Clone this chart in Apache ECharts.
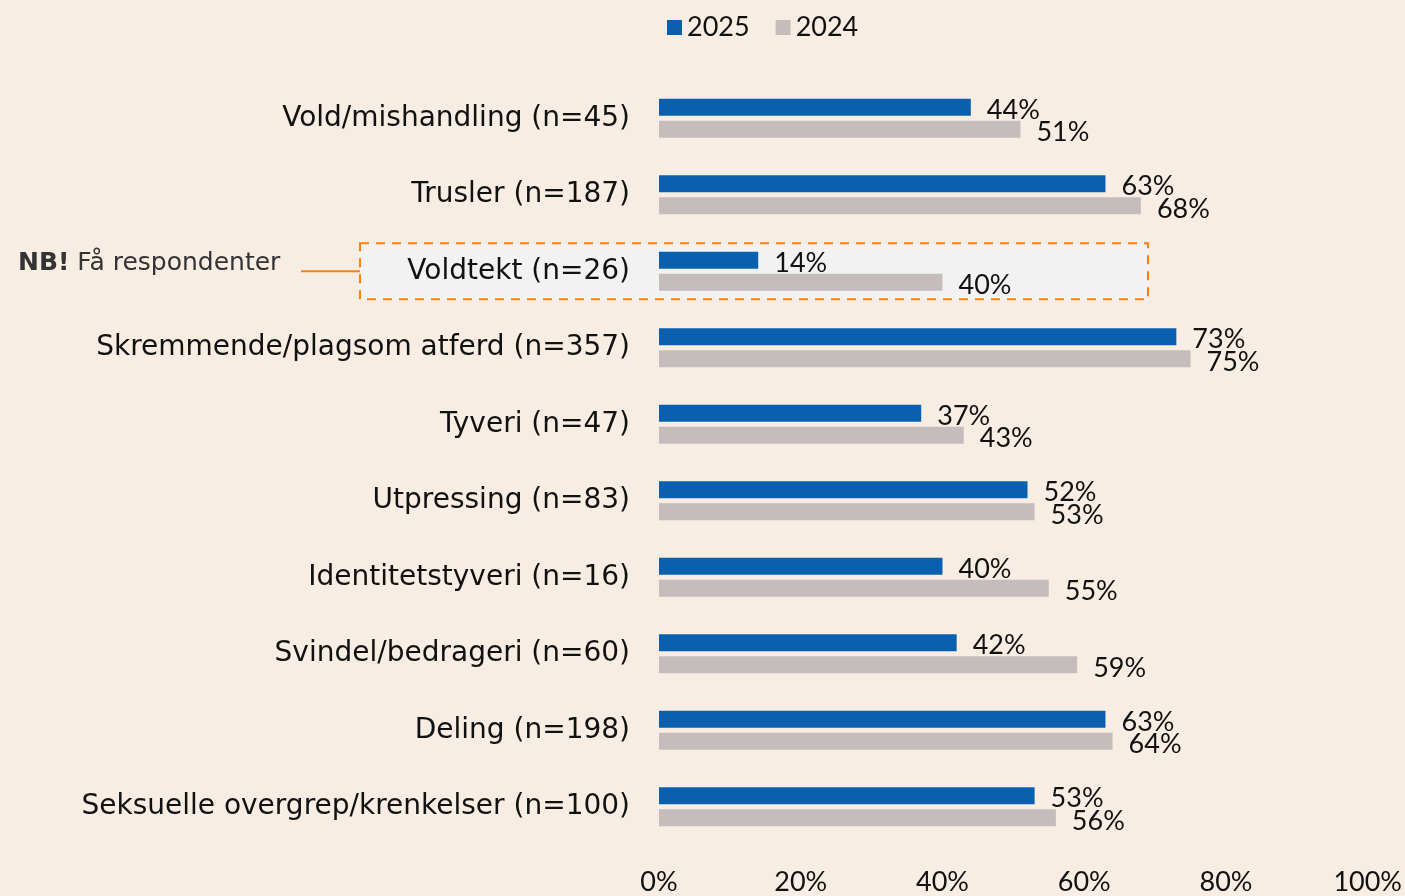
<!DOCTYPE html>
<html>
<head>
<meta charset="utf-8">
<script src="https://cdn.jsdelivr.net/npm/echarts@6/dist/echarts.min.js"></script>
<style>
html,body{margin:0;padding:0;background:#f8ede3;}
#chart{width:1405px;height:896px;}
</style>
</head>
<body>
<div id="chart"></div>
<script>
var categories = ['Vold/mishandling (n=45)', 'Trusler (n=187)', 'Voldtekt (n=26)', 'Skremmende/plagsom atferd (n=357)',
	'Tyveri (n=47)', 'Utpressing (n=83)', 'Identitetstyveri (n=16)', 'Svindel/bedrageri (n=60)',
	'Deling (n=198)', 'Seksuelle overgrep/krenkelser (n=100)'];
var values2025 = [44, 63, 14, 73, 37, 52, 40, 42, 63, 53];
var values2024 = [51, 68, 40, 75, 43, 53, 55, 59, 64, 56];
var noteCategory = 'Voldtekt (n=26)';
var noteRight = 69;

var myChart = echarts.init(document.getElementById('chart'));
var font = 'Lato';
var wide = 'DejaVu Sans';
var option = {
	backgroundColor: '#f8ede3',
	color: ['#0a5fae', '#c5bcbc'],
	textStyle: { fontFamily: font },
	legend: {
		top: 9,
		left: 662,
		itemWidth: 15,
		itemHeight: 15,
		itemGap: 26,
		icon: 'rect',
		textStyle: { fontSize: 27, color: '#111', fontFamily: font },
		data: ['2025', '2024']
	},
	grid: { left: 659, right: 37, top: 80, bottom: 51, containLabel: false },
	xAxis: {
		type: 'value',
		min: 0, max: 100, interval: 20,
		axisLine: { show: false },
		axisTick: { show: false },
		splitLine: { show: false },
		axisLabel: { formatter: '{value}%', fontSize: 27, color: '#111', margin: 24 }
	},
	yAxis: {
		type: 'category',
		inverse: true,
		data: categories,
		axisLine: { show: false },
		axisTick: { show: false },
		axisLabel: { fontSize: 28, color: '#111', margin: 29, fontFamily: wide, padding: [4, 0, 0, 0] }
	},
	series: [
		{
			name: '2025', type: 'bar', barWidth: 17, barGap: '30%', z: 3,
			label: { show: true, position: 'right', distance: 16, offset: [0, 3], formatter: '{c}%', fontSize: 27, color: '#111' },
			data: values2025
		},
		{
			name: '2024', type: 'bar', barWidth: 17, barGap: '30%', z: 3,
			label: { show: true, position: 'right', distance: 16, offset: [0, 3], formatter: '{c}%', fontSize: 27, color: '#111' },
			data: values2024
		}
	]
};
myChart.setOption(option);

// annotation box around the low-n category
var cy = myChart.convertToPixel({ yAxisIndex: 0 }, noteCategory);
var xr = myChart.convertToPixel({ xAxisIndex: 0 }, noteRight);
myChart.setOption({
	graphic: [
		{
			type: 'rect', z: 0, silent: true,
			shape: { x: 360, y: cy - 28, width: xr - 360, height: 56 },
			style: { fill: '#f2f2f2', stroke: '#ff7f0e', lineWidth: 2, lineDash: [9, 7] }
		},
		{
			type: 'line', z: 1, silent: true,
			shape: { x1: 301, y1: cy, x2: 360, y2: cy },
			style: { stroke: '#ff7f0e', lineWidth: 2 }
		},
		{
			type: 'text', z: 1, left: 18, top: cy - 20,
			style: {
				text: '{b|NB!} Få respondenter',
				rich: { b: { fontWeight: 'bold', fontSize: 25, fill: '#333', fontFamily: wide } },
				fontSize: 25, fill: '#333', fontFamily: wide
			}
		}
	]
});
</script>
</body>
</html>
